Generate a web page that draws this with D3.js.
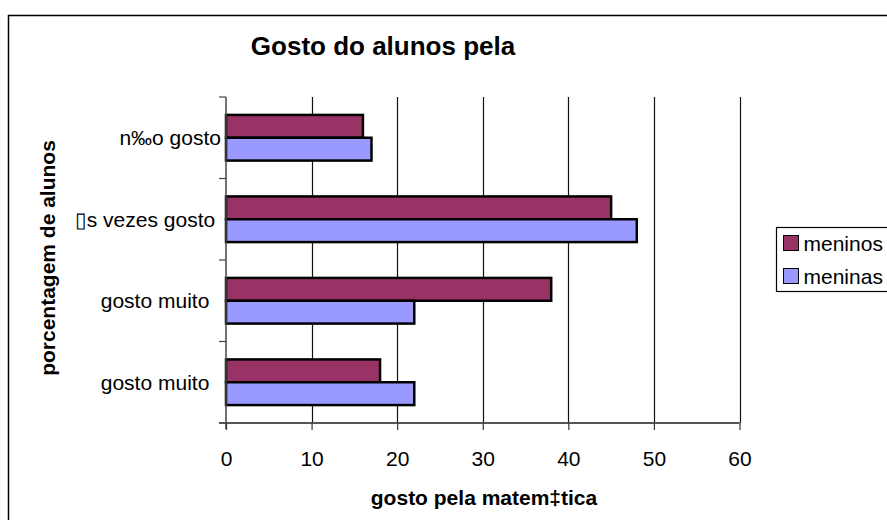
<!DOCTYPE html>
<html>
<head>
<meta charset="utf-8">
<script src="https://cdn.jsdelivr.net/npm/d3@7"></script>
<style>
  body { margin: 0; background: #fff; }
  svg { font-family: Arial, "Liberation Sans", sans-serif; }
</style>
</head>
<body>
<svg id="chart"></svg>
<script>
// chart data
const categories = ['n\u2030o gosto', '\u25AFs vezes gosto ', 'gosto muito  ', 'gosto muito  '];
const series = ['meninos', 'meninas'];
const meninos = [16, 45, 38, 18];
const meninas = [17, 48, 22, 22];
const xTicks = [0, 10, 20, 30, 40, 50, 60];
const colors = { meninos: '#993366', meninas: '#9999ff' };

const width = 887;
const height = 520;
const margin = { top: 97, right: 147.5, bottom: 97, left: 226 };
const fontFamily = 'Arial, "Liberation Sans", sans-serif';

const svg = d3.select('#chart')
  .attr('width', width)
  .attr('height', height);

// outer frame
svg.append('rect')
  .attr('x', 8.5)
  .attr('y', 15.5)
  .attr('width', 900)
  .attr('height', 600)
  .attr('fill', '#fff')
  .attr('stroke', '#000')
  .attr('stroke-width', 1.5);

const x = d3.scaleLinear()
  .domain([0, 60])
  .range([margin.left, width - margin.right]);

const y = d3.scaleBand()
  .domain(d3.range(categories.length))
  .range([margin.top, height - margin.bottom])
  .paddingInner(0.44)
  .paddingOuter(0.22);

const ySub = d3.scaleBand()
  .domain(series)
  .range([0, y.bandwidth()]);

const plotTop = margin.top;
const plotBottom = height - margin.bottom;

// gridlines
svg.append('g')
  .selectAll('line')
  .data(xTicks.slice(1))
  .join('line')
  .attr('x1', d => Math.round(x(d)) + 0.5)
  .attr('x2', d => Math.round(x(d)) + 0.5)
  .attr('y1', plotTop)
  .attr('y2', plotBottom)
  .attr('stroke', '#111')
  .attr('stroke-width', 1.2);

// bars
const rows = categories.map((c, i) => ({ i, meninos: meninos[i], meninas: meninas[i] }));
const groups = svg.append('g')
  .selectAll('g')
  .data(rows)
  .join('g')
  .attr('transform', d => `translate(0,${y(d.i)})`);

groups.selectAll('rect')
  .data(d => series.map(s => ({ key: s, value: d[s] })))
  .join('rect')
  .attr('x', x(0))
  .attr('y', d => ySub(d.key))
  .attr('width', d => x(d.value) - x(0))
  .attr('height', ySub.bandwidth())
  .attr('fill', d => colors[d.key])
  .attr('stroke', '#000')
  .attr('stroke-width', 2.5);

// category axis
const yAxis = svg.append('g')
  .attr('transform', `translate(${x(0)},0)`);
yAxis.append('line')
  .attr('x1', 0).attr('x2', 0)
  .attr('y1', plotTop).attr('y2', plotBottom + 6)
  .attr('stroke', '#444').attr('stroke-width', 1.5);
yAxis.selectAll('.tick')
  .data(d3.range(categories.length + 1))
  .join('line')
  .attr('class', 'tick')
  .attr('x1', -7).attr('x2', 0)
  .attr('y1', i => plotTop + i * y.step())
  .attr('y2', i => plotTop + i * y.step())
  .attr('stroke', '#444').attr('stroke-width', 1.2);
yAxis.selectAll('text')
  .data(categories)
  .join('text')
  .attr('x', -5)
  .attr('y', (d, i) => y(i) + y.bandwidth() / 2 + 7.5)
  .attr('text-anchor', 'end')
  .attr('font-size', 21)
  .style('white-space', 'pre')
  .text(d => d);

// value axis
const xAxis = svg.append('g')
  .attr('transform', `translate(0,${plotBottom})`)
  .call(d3.axisBottom(x).tickValues(xTicks).tickSizeInner(7).tickSizeOuter(0).tickPadding(21));
xAxis.select('.domain')
  .attr('d', `M${x(0) - 7},0H${x(60)}`)
  .attr('stroke', '#555')
  .attr('stroke-width', 2);
xAxis.selectAll('.tick line').attr('stroke', '#333').attr('stroke-width', 1.2);
xAxis.selectAll('.tick text')
  .attr('font-size', 21)
  .attr('font-family', fontFamily)
  .attr('fill', '#000');

// titles
svg.append('text')
  .attr('x', 383)
  .attr('y', 55)
  .attr('text-anchor', 'middle')
  .attr('font-size', 26)
  .attr('font-weight', 'bold')
  .text('Gosto do alunos pela');

svg.append('text')
  .attr('x', 484)
  .attr('y', 505)
  .attr('text-anchor', 'middle')
  .attr('font-size', 21)
  .attr('font-weight', 'bold')
  .text('gosto pela matem\u2021tica');

svg.append('text')
  .attr('transform', 'translate(55,258) rotate(-90)')
  .attr('text-anchor', 'middle')
  .attr('font-size', 21)
  .attr('font-weight', 'bold')
  .text('porcentagem de alunos');

// legend
const legend = svg.append('g')
  .attr('transform', 'translate(776.5,227.5)');
legend.append('rect')
  .attr('width', 120)
  .attr('height', 64)
  .attr('fill', '#fff')
  .attr('stroke', '#000')
  .attr('stroke-width', 1.2);
const items = legend.selectAll('g')
  .data(series)
  .join('g')
  .attr('transform', (d, i) => `translate(7,${8 + i * 33})`);
items.append('rect')
  .attr('width', 15)
  .attr('height', 15)
  .attr('fill', d => colors[d])
  .attr('stroke', '#000')
  .attr('stroke-width', 1);
items.append('text')
  .attr('x', 20)
  .attr('y', 15)
  .attr('font-size', 21)
  .text(d => d);
</script>
</body>
</html>
